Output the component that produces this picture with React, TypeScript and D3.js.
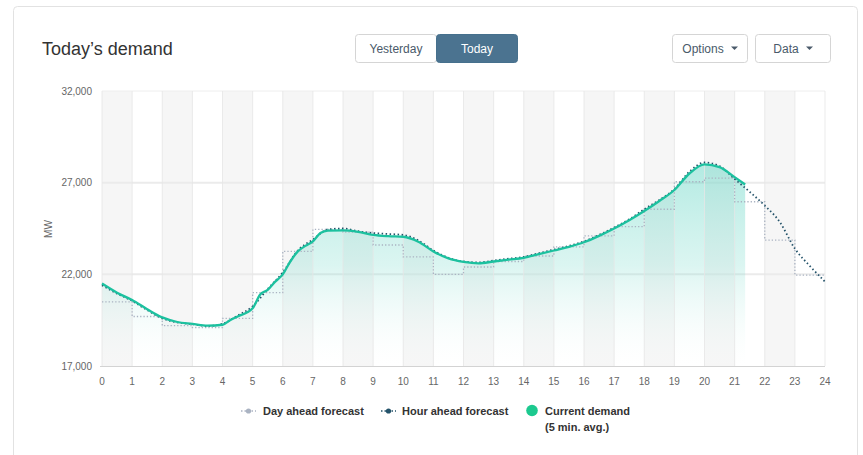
import React from "react";
import * as d3 from "d3";

const xTicks = [0, 1, 2, 3, 4, 5, 6, 7, 8, 9, 10, 11, 12, 13, 14, 15, 16, 17, 18, 19, 20, 21, 22, 23, 24];
const yTicks = [17000, 22000, 27000, 32000];
const gridValues = [22000, 27000];

// Current demand (5 min avg) — read at irregular times (hours)
const currentHours = [0, 0.5, 1, 1.5, 2, 2.5, 3, 3.5, 4, 4.25, 4.5, 5, 5.25, 5.5, 5.75, 6, 6.25, 6.5, 6.75, 7, 7.25, 7.5, 8, 8.5, 9, 9.5, 10, 10.5, 11, 11.5, 12, 12.5, 13, 13.5, 14, 14.5, 15, 15.5, 16, 16.5, 17, 17.5, 18, 18.5, 19, 19.5, 20, 20.5, 21, 21.35];
const currentValues = [21500, 21000, 20600, 20100, 19650, 19400, 19300, 19200, 19250, 19500, 19700, 20150, 20900, 21150, 21600, 22000, 22700, 23250, 23550, 23800, 24250, 24380, 24400, 24320, 24150, 24080, 24050, 23780, 23250, 22870, 22680, 22600, 22700, 22800, 22900, 23100, 23300, 23500, 23750, 24100, 24500, 24950, 25450, 26000, 26600, 27500, 28000, 27850, 27300, 26900];

// Hour ahead forecast
const hourAheadHours = [0, 0.5, 1, 1.5, 2, 2.5, 3, 3.5, 4, 4.5, 5, 5.5, 6, 6.5, 7, 7.5, 8, 8.5, 9, 9.5, 10, 10.5, 11, 11.5, 12, 12.5, 13, 13.5, 14, 14.5, 15, 15.5, 16, 16.5, 17, 17.5, 18, 18.5, 19, 19.5, 20, 20.5, 21, 21.5, 22, 22.5, 23, 23.5, 24];
const hourAheadValues = [21400, 20950, 20550, 20050, 19600, 19380, 19280, 19180, 19300, 19750, 20250, 21200, 22100, 23300, 23900, 24450, 24500, 24350, 24250, 24200, 24150, 23850, 23300, 22900, 22700, 22650, 22750, 22850, 22950, 23150, 23350, 23550, 23800, 24150, 24550, 25000, 25550, 26050, 26650, 27600, 28100, 27900, 27200, 26500, 25750, 24850, 23400, 22450, 21600];

// Day ahead forecast — hourly (step)
const dayAheadHours = [0, 1, 2, 3, 4, 5, 6, 7, 8, 9, 10, 11, 12, 13, 14, 15, 16, 17, 18, 19, 20, 21, 22, 23, 24];
const dayAheadValues = [20500, 19700, 19200, 19100, 19600, 21000, 23250, 24450, 24300, 23600, 22950, 22000, 22400, 22700, 23000, 23500, 24100, 24600, 25550, 27050, 27250, 25960, 23870, 21960, 21960];

const legendItems = ["Day ahead forecast", "Hour ahead forecast", "Current demand", "(5 min. avg.)"];

const W = 863;
const H = 455;

export default function App() {
  const x = d3.scaleLinear().domain([0, 24]).range([102, 825]);
  const y = d3.scaleLinear().domain([17000, 32000]).range([366, 91]);

  const current = currentHours.map((h, i) => [h, currentValues[i]] as [number, number]);
  const hourAhead = hourAheadHours.map((h, i) => [h, hourAheadValues[i]] as [number, number]);
  const dayAhead = dayAheadHours.map((h, i) => [h, dayAheadValues[i]] as [number, number]);

  const lineSmooth = d3
    .line<[number, number]>()
    .x((d) => x(d[0]))
    .y((d) => y(d[1]))
    .curve(d3.curveMonotoneX);
  const lineStep = d3
    .line<[number, number]>()
    .x((d) => x(d[0]))
    .y((d) => y(d[1]))
    .curve(d3.curveStepAfter);
  const area = d3
    .area<[number, number]>()
    .x((d) => x(d[0]))
    .y0(y(17000))
    .y1((d) => y(d[1]))
    .curve(d3.curveMonotoneX);

  const font = "'Liberation Sans', Arial, Helvetica, sans-serif";
  const bands = xTicks.slice(0, -1).filter((t) => t % 2 === 0);

  return (
    <svg
      width={W}
      height={H}
      viewBox={`0 0 ${W} ${H}`}
      style={{ position: "absolute", left: 0, top: 0, display: "block", background: "#fff" }}
      fontFamily={font}
    >
      <defs>
        <linearGradient id="fillGrad" gradientUnits="userSpaceOnUse" x1="0" y1={y(28000)} x2="0" y2={y(17000)}>
          <stop offset="0%" stopColor="#3fcbb6" stopOpacity={0.4} />
          <stop offset="50%" stopColor="#6fd8c8" stopOpacity={0.25} />
          <stop offset="100%" stopColor="#ffffff" stopOpacity={0.05} />
        </linearGradient>
      </defs>

      {/* card */}
      <rect x={13.5} y={6.5} width={844} height={470} rx={4} fill="#fff" stroke="#e2e2e2" />

      {/* title */}
      <text x={42} y={55} fontSize={18} fill="#333">Today’s demand</text>

      {/* segmented buttons */}
      <g fontSize={12}>
        <rect x={355.5} y={34.5} width={81} height={28} rx={3} fill="#fff" stroke="#d5d5d5" />
        <text x={396} y={52.5} textAnchor="middle" fill="#4a5a6a">Yesterday</text>
        <rect x={436.5} y={34.5} width={81} height={28} rx={3} fill="#4b7390" stroke="#46708d" />
        <text x={477} y={52.5} textAnchor="middle" fill="#fff">Today</text>

        <rect x={672.5} y={34.5} width={75} height={28} rx={3} fill="#fff" stroke="#d5d5d5" />
        <text x={703} y={52.5} textAnchor="middle" fill="#4a5a6a">Options</text>
        <path d="M731,46.5 l7,0 l-3.5,3.5 z" fill="#4a5a6a" />
        <rect x={755.5} y={34.5} width={75} height={28} rx={3} fill="#fff" stroke="#d5d5d5" />
        <text x={786} y={52.5} textAnchor="middle" fill="#4a5a6a">Data</text>
        <path d="M806,46.5 l7,0 l-3.5,3.5 z" fill="#4a5a6a" />
      </g>

      {/* bands */}
      {bands.map((t) => (
        <rect key={"b" + t} x={x(t)} y={y(32000)} width={x(t + 1) - x(t)} height={y(17000) - y(32000)} fill="#f6f6f6" />
      ))}

      {/* horizontal grid */}
      <line x1={x(0)} x2={x(24)} y1={y(32000)} y2={y(32000)} stroke="#eeeeee" strokeWidth={1} />
      {gridValues.map((v) => (
        <line key={"g" + v} x1={x(0)} x2={x(24)} y1={y(v)} y2={y(v)} stroke="#ebebeb" strokeWidth={2} />
      ))}

      {/* area */}
      <path d={area(current) || ""} fill="url(#fillGrad)" />

      {/* vertical grid */}
      {xTicks.map((t) => (
        <line key={"v" + t} x1={x(t)} x2={x(t)} y1={y(32000)} y2={y(17000)} stroke="#e6e6e6" strokeOpacity={0.8} strokeWidth={1} />
      ))}

      {/* axis line */}
      <line x1={x(0) - 2} x2={x(24)} y1={y(17000) + 0.5} y2={y(17000) + 0.5} stroke="#d3d3d3" strokeWidth={1} />

      {/* y labels */}
      {yTicks.map((v) => (
        <text key={"y" + v} x={92} y={y(v) + 3.5} textAnchor="end" fontSize={10} fill="#666">
          {d3.format(",")(v)}
        </text>
      ))}
      <text transform={`translate(52,229) rotate(-90)`} textAnchor="middle" fontSize={10} fill="#666">MW</text>

      {/* x labels */}
      {xTicks.map((t) => (
        <text key={"x" + t} x={x(t)} y={385} textAnchor="middle" fontSize={10} fill="#666">
          {t}
        </text>
      ))}

      {/* day ahead */}
      <path d={lineStep(dayAhead) || ""} fill="none" stroke="#aab3c2" strokeWidth={1.3} strokeDasharray="1.3,2" />
      {/* hour ahead */}
      <path d={lineSmooth(hourAhead) || ""} fill="none" stroke="#24536a" strokeWidth={1.8} strokeDasharray="1.5,2.5" />
      {/* current */}
      <path d={lineSmooth(current) || ""} fill="none" stroke="#1cc19f" strokeWidth={2.3} strokeLinejoin="round" />

      {/* legend */}
      <g fontSize={11} fontWeight="bold" fill="#333">
        <line x1={241} x2={256} y1={411} y2={411} stroke="#aab3c2" strokeWidth={1.5} strokeDasharray="1.5,2" />
        <circle cx={248.5} cy={411} r={2.6} fill="#aab3c2" />
        <text x={263} y={415}>{legendItems[0]}</text>
        <line x1={381} x2={396} y1={411} y2={411} stroke="#24536a" strokeWidth={1.5} strokeDasharray="1.5,2" />
        <circle cx={388.5} cy={411} r={2.6} fill="#24536a" />
        <text x={402} y={415}>{legendItems[1]}</text>
        <circle cx={532} cy={410.5} r={5.8} fill="#1cc98f" />
        <text x={545} y={415}>{legendItems[2]}</text>
        <text x={545} y={431}>{legendItems[3]}</text>
      </g>
    </svg>
  );
}
